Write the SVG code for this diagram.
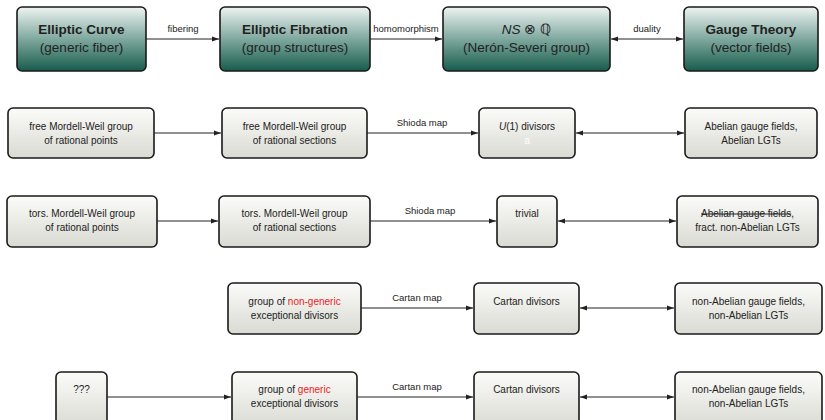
<svg xmlns="http://www.w3.org/2000/svg" width="825" height="420" viewBox="0 0 825 420">
<defs>
<linearGradient id="teal" x1="0" y1="0" x2="0" y2="1">
<stop offset="0" stop-color="#eef4f2"/>
<stop offset="0.5" stop-color="#7fa89e"/>
<stop offset="1" stop-color="#175c4d"/>
</linearGradient>
<linearGradient id="gray" x1="0" y1="0" x2="0" y2="1">
<stop offset="0" stop-color="#fbfbf9"/>
<stop offset="1" stop-color="#dadad3"/>
</linearGradient>
<marker id="ah" viewBox="0 0 10 10" refX="10" refY="5" markerWidth="6" markerHeight="6" orient="auto-start-reverse">
<path d="M0,1.5 L10,5 L0,8.5 z" fill="#222"/>
</marker>
</defs>
<style>
text{font-family:"Liberation Sans",Arial,sans-serif;fill:#222;text-anchor:middle}
.tb{fill:url(#teal);stroke:#1a1a1a;stroke-width:1.6}
.gb{fill:url(#gray);stroke:#1a1a1a;stroke-width:1.6}
.h{font-size:13.5px;font-weight:bold}
.s{font-size:13.5px}
.t{font-size:10px}
.l{font-size:9.5px}
.red{fill:#ee2222}
.c line{stroke:#222;stroke-width:1.2}
</style>

<g id="n-curve"><rect class="tb" x="17" y="7" width="129" height="64" rx="5"/><text class="h" x="81.5" y="34">Elliptic Curve</text><text class="s" x="81.5" y="52">(generic fiber)</text></g>
<g id="n-fibration"><rect class="tb" x="220" y="7" width="150" height="64" rx="5"/><text class="h" x="295" y="34">Elliptic Fibration</text><text class="s" x="295" y="52">(group structures)</text></g>
<g id="n-ns"><rect class="tb" x="443" y="7" width="167" height="64" rx="5"/><text class="s" x="526.5" y="34"><tspan font-style="italic">NS</tspan> ⊗ ℚ</text><text class="s" x="526.5" y="52">(Nerón-Severi group)</text></g>
<g id="n-gauge"><rect class="tb" x="684" y="7" width="134" height="64" rx="5"/><text class="h" x="751" y="34">Gauge Theory</text><text class="s" x="751" y="52">(vector fields)</text></g>

<g id="n-r2a"><rect class="gb" x="8" y="108" width="146" height="50" rx="5"/><text class="t" x="81" y="130">free Mordell-Weil group</text><text class="t" x="81" y="144">of rational points</text></g>
<g id="n-r2b"><rect class="gb" x="222" y="108" width="145" height="50" rx="5"/><text class="t" x="294.5" y="130">free Mordell-Weil group</text><text class="t" x="294.5" y="144">of rational sections</text></g>
<g id="n-r2c"><rect class="gb" x="479" y="108" width="96" height="50" rx="5"/><text class="t" x="527" y="130"><tspan font-style="italic">U</tspan>(1) divisors</text><text class="t" x="527" y="144" style="fill:#ffffff">a</text></g>
<g id="n-r2d"><rect class="gb" x="685" y="108" width="132" height="50" rx="5"/><text class="t" x="751" y="130">Abelian gauge fields,</text><text class="t" x="751" y="144">Abelian LGTs</text></g>

<g id="n-r3a"><rect class="gb" x="7" y="196" width="150" height="51" rx="5"/><text class="t" x="82" y="217">tors.  Mordell-Weil group</text><text class="t" x="82" y="231">of rational points</text></g>
<g id="n-r3b"><rect class="gb" x="219" y="196" width="151" height="51" rx="5"/><text class="t" x="294.5" y="217">tors.  Mordell-Weil group</text><text class="t" x="294.5" y="231">of rational sections</text></g>
<g id="n-r3c"><rect class="gb" x="497" y="196" width="60" height="51" rx="5"/><text class="t" x="527" y="217">trivial</text></g>
<g id="n-r3d"><rect class="gb" x="677" y="196" width="141" height="51" rx="5"/><text class="t" x="747.5" y="217"><tspan text-decoration="line-through">Abelian gauge fields</tspan>,</text><text class="t" x="747.5" y="231">fract.  non-Abelian LGTs</text></g>

<g id="n-r4b"><rect class="gb" x="228" y="283" width="133" height="51" rx="5"/><text class="t" x="294.5" y="305">group of <tspan class="red">non-generic</tspan></text><text class="t" x="294.5" y="319">exceptional divisors</text></g>
<g id="n-r4c"><rect class="gb" x="474" y="283" width="105" height="51" rx="5"/><text class="t" x="526.5" y="305">Cartan divisors</text></g>
<g id="n-r4d"><rect class="gb" x="675" y="283" width="147" height="51" rx="5"/><text class="t" x="748.5" y="305">non-Abelian gauge fields,</text><text class="t" x="748.5" y="319">non-Abelian LGTs</text></g>

<g id="n-r5a"><rect class="gb" x="56" y="372" width="51" height="56" rx="5"/><text class="t" x="81.5" y="393">???</text></g>
<g id="n-r5b"><rect class="gb" x="232" y="372" width="125" height="56" rx="5"/><text class="t" x="294.5" y="393">group of <tspan class="red">generic</tspan></text><text class="t" x="294.5" y="407">exceptional divisors</text></g>
<g id="n-r5c"><rect class="gb" x="474" y="372" width="105" height="56" rx="5"/><text class="t" x="526.5" y="393">Cartan divisors</text></g>
<g id="n-r5d"><rect class="gb" x="675" y="372" width="147" height="56" rx="5"/><text class="t" x="748.5" y="393">non-Abelian gauge fields,</text><text class="t" x="748.5" y="407">non-Abelian LGTs</text></g>

<g id="connectors" class="c">
<line x1="146" y1="39" x2="219" y2="39" marker-end="url(#ah)"/>
<text class="l" x="183" y="32">fibering</text>
<line x1="370" y1="39" x2="442" y2="39" marker-end="url(#ah)"/>
<text class="l" x="406" y="32">homomorphism</text>
<line x1="611" y1="39" x2="683" y2="39" marker-start="url(#ah)" marker-end="url(#ah)"/>
<text class="l" x="647" y="32">duality</text>

<line x1="154" y1="133" x2="221" y2="133" marker-end="url(#ah)"/>
<line x1="367" y1="133" x2="478" y2="133" marker-end="url(#ah)"/>
<text class="l" x="422" y="126">Shioda map</text>
<line x1="576" y1="133" x2="684" y2="133" marker-start="url(#ah)" marker-end="url(#ah)"/>

<line x1="157" y1="221" x2="218" y2="221" marker-end="url(#ah)"/>
<line x1="370" y1="221" x2="496" y2="221" marker-end="url(#ah)"/>
<text class="l" x="430" y="214">Shioda map</text>
<line x1="558" y1="221" x2="676" y2="221" marker-start="url(#ah)" marker-end="url(#ah)"/>

<line x1="361" y1="308" x2="473" y2="308" marker-end="url(#ah)"/>
<text class="l" x="417" y="301">Cartan map</text>
<line x1="580" y1="308" x2="674" y2="308" marker-start="url(#ah)" marker-end="url(#ah)"/>

<line x1="107" y1="397" x2="231" y2="397" marker-end="url(#ah)"/>
<line x1="357" y1="397" x2="473" y2="397" marker-end="url(#ah)"/>
<text class="l" x="417" y="390">Cartan map</text>
<line x1="580" y1="397" x2="674" y2="397" marker-start="url(#ah)" marker-end="url(#ah)"/>
</g>
</svg>
